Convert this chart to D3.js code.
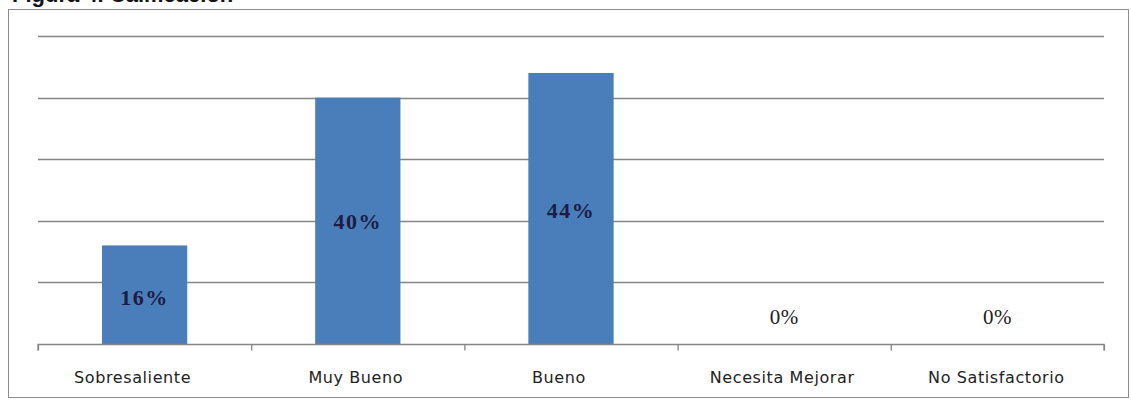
<!DOCTYPE html>
<html><head><meta charset="utf-8">
<script src="https://cdn.jsdelivr.net/npm/d3@7"></script>
<style>html,body{margin:0;padding:0;background:#fff;overflow:hidden}</style>
</head><body>
<svg id="c" width="1131" height="400"></svg>
<script>
const categories = ["Sobresaliente", "Muy Bueno", "Bueno", "Necesita Mejorar", "No Satisfactorio"];
const values = [0.16, 0.40, 0.44, 0.00, 0.00];
const valueLabels = ["16%", "40%", "44%", "0%", "0%"];
const gridTicks = [0, 0.1, 0.2, 0.3, 0.4, 0.5];
const titleText = "Figura 4. Calificación";

const svg = d3.select("#c");
const plotL = 38, plotR = 1104, plotT = 36, plotB = 344;

// title (clipped at top as in reference)
svg.append("text").attr("x", 12).attr("y", 2)
  .attr("font-family", "Liberation Sans, Arial, sans-serif").attr("font-weight", "bold")
  .attr("font-size", 22).attr("fill", "#111").text(titleText);

// outer border
svg.append("rect").attr("x", 8.5).attr("y", 9.5).attr("width", 1120).attr("height", 388)
  .attr("fill", "none").attr("stroke", "#8c8c8c").attr("stroke-width", 1);

const x = d3.scaleBand().domain(categories).range([plotL, plotR]).paddingInner(0.6).paddingOuter(0.3);
const y = d3.scaleLinear().domain([0, 0.5]).range([plotB, plotT]);

// gridlines
svg.append("g").selectAll("line").data(gridTicks.filter(d => d > 0)).join("line")
  .attr("x1", plotL).attr("x2", plotR)
  .attr("y1", d => Math.round(y(d)) + 0.5).attr("y2", d => Math.round(y(d)) + 0.5)
  .attr("stroke", "#858585").attr("stroke-width", 1.3);

// bars
svg.append("g").selectAll("rect").data(values).join("rect")
  .attr("x", (d, i) => x(categories[i]))
  .attr("width", x.bandwidth())
  .attr("y", d => y(d))
  .attr("height", d => y(0) - y(d))
  .attr("fill", "#4a7ebb");

// x axis
const xb = d3.scaleLinear().domain([0, categories.length]).range([plotL, plotR]);
const axis = svg.append("g").attr("transform", `translate(0,${plotB + 0.5})`);
axis.call(d3.axisBottom(xb).tickValues(d3.range(categories.length + 1)).tickSize(6).tickFormat(""));
axis.select(".domain").attr("stroke", "#858585").attr("stroke-width", 1.3).attr("d", `M${plotL},6V0H${plotR}V6`);
axis.selectAll(".tick line").attr("stroke", "#858585").attr("stroke-width", 1.3);

const labelShift = [-12, -2, -12, -2, -1];
svg.append("g").selectAll("text").data(categories).join("text")
  .attr("x", (d, i) => x(d) + x.bandwidth() / 2 + labelShift[i])
  .attr("y", 383)
  .attr("text-anchor", "middle")
  .attr("font-family", "DejaVu Sans, sans-serif").attr("font-size", 16)
  .attr("letter-spacing", 0.6)
  .attr("fill", "#222").text(d => d);

// value labels (manually placed in the original)
const labelLevels = [0.076, 0.2, 0.2175, 0.045, 0.045];
svg.append("g").selectAll("text").data(values).join("text")
  .attr("x", (d, i) => x(categories[i]) + x.bandwidth() / 2)
  .attr("y", (d, i) => y(labelLevels[i]) + 8)
  .attr("text-anchor", "middle")
  .attr("font-family", "Liberation Serif, serif")
  .attr("font-weight", d => d > 0 ? "bold" : "normal")
  .attr("font-size", d => d > 0 ? 22 : 21)
  .attr("letter-spacing", d => d > 0 ? 1.5 : 0.5)
  .attr("fill", d => d > 0 ? "#1c1c44" : "#222")
  .text((d, i) => valueLabels[i]);
</script>
</body></html>
